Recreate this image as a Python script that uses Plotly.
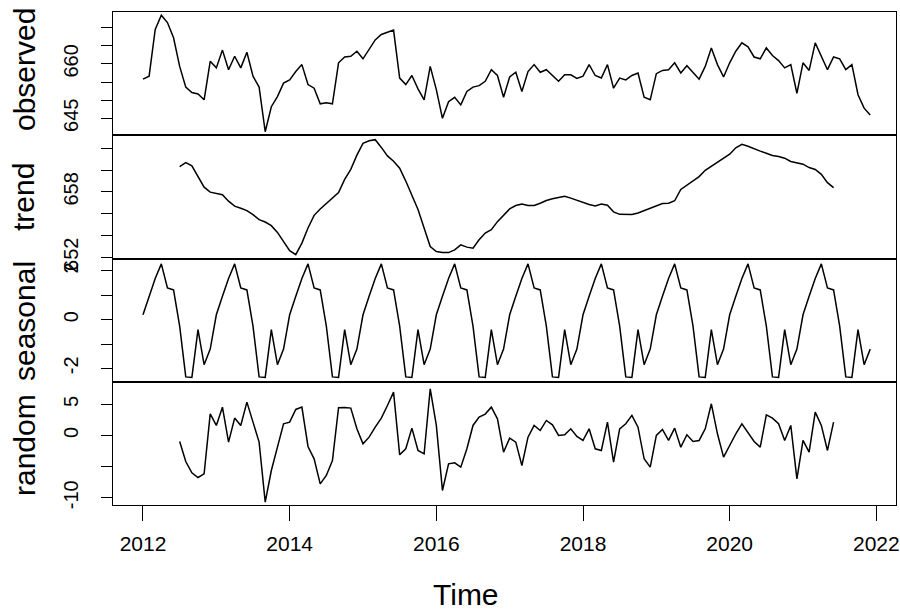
import plotly.graph_objects as go
from plotly.subplots import make_subplots

# ---- data (monthly series, Jan 2012 - Dec 2021) ----
start_year = 2012
frequency = 12

observed = [
    655.8, 656.6, 669.5, 673.4, 671.4, 667.2, 659.3, 653.6, 652.1, 651.7,
    650.1, 660.7, 658.9, 663.8, 658.4, 662.1, 658.9, 663.2, 656.6, 653.6,
    641.3, 648.2, 651.0, 654.7, 655.6, 657.9, 659.8, 654.3, 653.3, 649.0,
    649.3, 649.0, 660.3, 661.9, 662.1, 663.5, 661.4, 664.0, 666.6, 668.1,
    668.6, 669.3, 656.1, 654.3, 656.8, 653.1, 650.1, 659.3, 652.9, 645.0,
    649.6, 650.8, 648.7, 652.4, 653.6, 654.0, 655.2, 658.4, 656.8, 650.8,
    656.4, 657.7, 652.4, 657.9, 659.8, 657.7, 658.4, 656.8, 655.2, 657.0,
    657.0, 656.0, 656.6, 659.8, 656.8, 656.1, 659.8, 653.3, 656.1, 655.6,
    656.8, 657.5, 650.8, 650.1, 657.3, 658.2, 658.4, 660.3, 657.5, 659.5,
    657.5, 655.8, 659.3, 664.4, 659.8, 656.4, 660.3, 663.5, 665.8, 664.7,
    661.9, 661.4, 664.4, 662.3, 660.9, 658.9, 659.8, 651.9, 660.3, 658.2,
    665.8, 662.1, 658.4, 661.9, 661.4, 658.4, 659.8, 651.5, 647.8, 645.9,
]

trend = [None] * 6 + [
    660.33, 660.70, 660.39, 659.46, 658.44, 657.98, 657.86, 657.74, 657.15, 656.69,
    656.50, 656.29, 655.92, 655.45, 655.24, 654.90, 654.28, 653.44, 652.61, 652.24,
    653.30, 654.69, 655.85, 656.44, 656.96, 657.49, 657.95, 659.16, 660.08, 661.38,
    662.46, 662.70, 662.80, 662.09, 661.31, 660.82, 660.18, 659.00, 657.68, 656.38,
    654.69, 652.98, 652.52, 652.43, 652.43, 652.68, 653.14, 652.93, 652.83, 653.60,
    654.22, 654.53, 655.27, 655.82, 656.44, 656.75, 656.90, 656.75, 656.75, 656.96,
    657.21, 657.37, 657.52, 657.61, 657.43, 657.21, 657.00, 656.84, 656.72, 656.90,
    656.78, 656.17, 655.94, 655.92, 655.92, 656.07, 656.29, 656.50, 656.78, 656.94,
    656.96, 657.19, 658.23, 658.60, 659.00, 659.41, 659.99, 660.36, 660.76, 661.10,
    661.47, 662.06, 662.37, 662.19, 661.94, 661.75, 661.56, 661.35, 661.26, 661.10,
    660.80, 660.64, 660.55, 660.24, 660.06, 659.62, 658.85, 658.39,
] + [None] * 6

seasonal = [
    0.20, 0.96, 1.69, 2.29, 1.30, 1.22, -0.27, -2.35, -2.37, -0.41, -1.85, -1.21,
    0.20, 0.96, 1.69, 2.29, 1.30, 1.22, -0.27, -2.35, -2.37, -0.41, -1.85, -1.21,
    0.20, 0.96, 1.69, 2.29, 1.30, 1.22, -0.27, -2.35, -2.37, -0.41, -1.85, -1.21,
    0.20, 0.96, 1.69, 2.29, 1.30, 1.22, -0.27, -2.35, -2.37, -0.41, -1.85, -1.21,
    0.20, 0.96, 1.69, 2.29, 1.30, 1.22, -0.27, -2.35, -2.37, -0.41, -1.85, -1.21,
    0.20, 0.96, 1.69, 2.29, 1.30, 1.22, -0.27, -2.35, -2.37, -0.41, -1.85, -1.21,
    0.20, 0.96, 1.69, 2.29, 1.30, 1.22, -0.27, -2.35, -2.37, -0.41, -1.85, -1.21,
    0.20, 0.96, 1.69, 2.29, 1.30, 1.22, -0.27, -2.35, -2.37, -0.41, -1.85, -1.21,
    0.20, 0.96, 1.69, 2.29, 1.30, 1.22, -0.27, -2.35, -2.37, -0.41, -1.85, -1.21,
    0.20, 0.96, 1.69, 2.29, 1.30, 1.22, -0.27, -2.35, -2.37, -0.41, -1.85, -1.21,
]

random_component = [None] * 6 + [
    -0.96, -4.18, -6.00, -6.75, -6.16, 3.48, 1.61, 4.55, -1.07, 2.79,
    1.61, 5.36, 2.14, -1.07, -10.72, -5.63, -1.88, 1.88, 2.14, 4.18,
    4.55, -1.77, -3.75, -7.77, -6.43, -4.02, 4.45, 4.50, 4.40, 1.07,
    -1.34, -0.27, 1.34, 2.79, 4.82, 6.97, -3.11, -2.14, 1.18, -2.41,
    -2.95, 7.50, 1.61, -8.84, -4.56, -4.40, -5.09, -2.14, 1.61, 2.95,
    3.43, 4.55, 2.68, -2.68, -0.43, -1.07, -4.82, -0.27, 1.61, 0.80,
    2.41, 1.71, 0.00, 0.11, 1.07, -0.16, -0.80, 1.07, -2.14, -2.41,
    2.14, -4.29, 1.07, 1.88, 3.22, 1.34, -3.75, -5.09, 0.00, 0.96,
    -0.80, 1.18, -1.88, 0.11, -0.96, -0.80, 1.07, 5.09, 0.27, -3.48,
    -1.61, 0.27, 1.88, 0.54, -0.96, -1.88, 3.32, 2.79, 1.88, -0.80,
    1.61, -6.97, -0.80, -2.68, 3.75, 1.61, -2.41, 2.14,
] + [None] * 6

time = [start_year + i / frequency for i in range(len(observed))]

panel_names = ["observed", "trend", "seasonal", "random"]
panel_series = [observed, trend, seasonal, random_component]
y_ranges = [[640.4, 674.3], [651.84, 663.23], [-2.56, 2.49], [-11.17, 8.59]]
y_tickvals = [
    [645, 650, 655, 660, 665, 670],
    [652, 654, 656, 658, 660, 662],
    [-2, -1, 0, 1, 2],
    [-10, -5, 0, 5],
]
y_ticktext = [
    ["645", "", "", "660", "", ""],
    ["652", "", "", "658", "", ""],
    ["-2", "", "0", "", "2"],
    ["-10", "", "0", "5"],
]
x_tickvals = [2012, 2014, 2016, 2018, 2020, 2022]
x_ticktext = ["2012", "2014", "2016", "2018", "2020", "2022"]

FONT = "Liberation Sans, Arial, sans-serif"

fig = make_subplots(rows=4, cols=1, shared_xaxes=True, vertical_spacing=0)

for r, (name, ser) in enumerate(zip(panel_names, panel_series), start=1):
    fig.add_trace(
        go.Scatter(x=time, y=ser, mode="lines", name=name,
                   line=dict(color="black", width=1.5), connectgaps=False,
                   showlegend=False),
        row=r, col=1,
    )

domains = [[0.7505, 1.0], [0.499, 0.7505], [0.2495, 0.499], [0.0, 0.2495]]
for r in range(1, 5):
    fig.update_yaxes(
        row=r, col=1,
        domain=domains[r - 1],
        range=y_ranges[r - 1],
        automargin=False,
        tickmode="array", tickvals=y_tickvals[r - 1], ticktext=y_ticktext[r - 1],
        ticks="outside", ticklen=11, tickwidth=1, tickcolor="black",
        tickangle=-90, ticklabelstandoff=15,
        tickfont=dict(family=FONT, size=20, color="black"),
        showline=True, mirror=True, linecolor="black", linewidth=1,
        showgrid=False, zeroline=False,
    )
    fig.update_xaxes(
        row=r, col=1,
        range=[2011.591, 2022.268],
        automargin=False,
        showline=True, mirror=True, linecolor="black", linewidth=1,
        showgrid=False, zeroline=False,
    )
    if r < 4:
        fig.update_xaxes(row=r, col=1, ticks="", showticklabels=False)
    else:
        fig.update_xaxes(
            row=r, col=1,
            tickmode="array", tickvals=x_tickvals, ticktext=x_ticktext,
            ticks="outside", ticklen=15, tickwidth=1, tickcolor="black",
            ticklabelstandoff=5, ticklabeloverflow="allow",
            tickfont=dict(family=FONT, size=21, color="black"),
            showticklabels=True,
        )

# panel titles (R style, rotated on the left)
title_y_px = [70, 197, 321, 445]
for name, ypx in zip(panel_names, title_y_px):
    fig.add_annotation(
        text=name, xref="paper", yref="paper",
        x=(24 - 113) / 783, y=(505 - ypx) / 493,
        xanchor="center", yanchor="middle", textangle=-90, showarrow=False,
        font=dict(family=FONT, size=30, color="black"),
    )

fig.add_annotation(
    text="Time", xref="paper", yref="paper",
    x=(466 - 113) / 783, y=-(594 - 505) / 493,
    xanchor="center", yanchor="middle", showarrow=False,
    font=dict(family=FONT, size=30, color="black"),
)

fig.update_layout(
    width=900, height=613,
    margin=dict(l=113, r=4, t=12, b=108),
    paper_bgcolor="white", plot_bgcolor="white",
    showlegend=False,
)

fig.write_html(
    "out.html",
    config={"displayModeBar": False},
    post_script="document.body.style.margin='0';document.body.style.overflow='hidden';",
)
